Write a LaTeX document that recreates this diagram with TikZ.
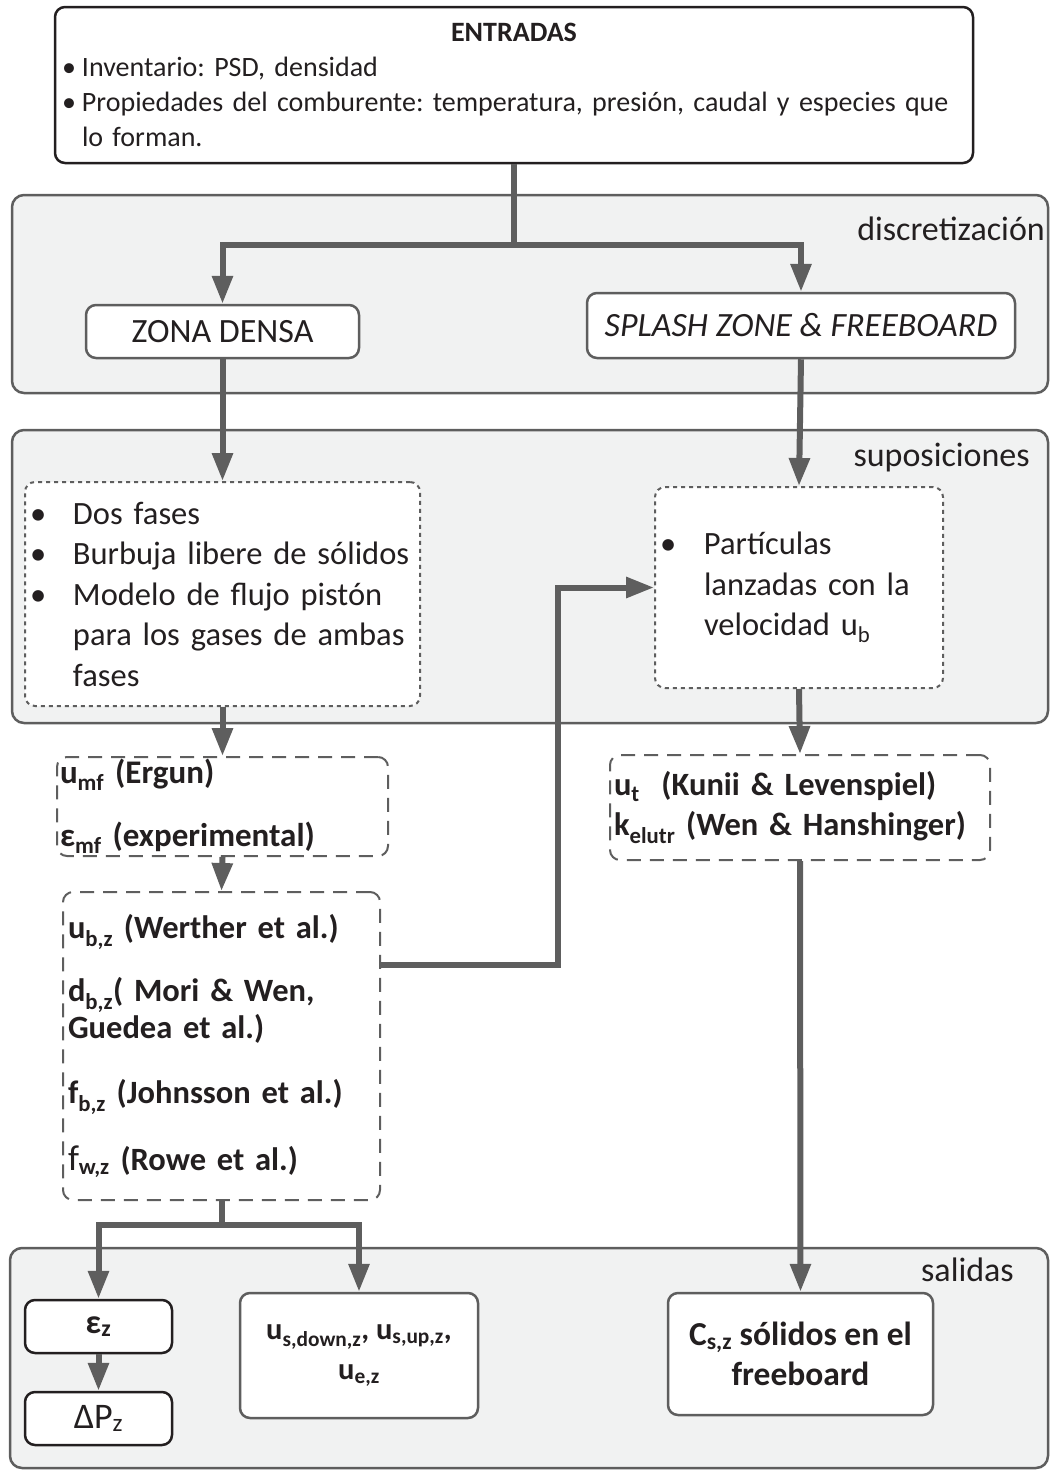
\documentclass[tikz,border=0pt]{standalone}
\usepackage{fontspec}
\setmainfont{Carlito}
\frenchspacing
\usetikzlibrary{arrows.meta}
\definecolor{linegray}{HTML}{5E5E5E}
\definecolor{panelfill}{HTML}{F1F2F2}
\definecolor{ink}{HTML}{231F20}
\tikzset{
  panel/.style={draw=linegray, fill=panelfill, line width=2.5pt, rounded corners=12pt},
  paneltag/.style={anchor=east, font=\fontsize{34}{40}\selectfont, text=ink, inner sep=0pt},
  box/.style={draw=linegray, fill=white, line width=2.5pt, rounded corners=10pt, text=ink, align=center, inner sep=0pt},
  dotbox/.style={box, align=left, dash pattern=on 4pt off 4pt, line width=2pt},
  dashbox/.style={box, align=left, dash pattern=on 14pt off 9pt, line width=2pt},
  flow/.style={draw=linegray, line width=6pt, -{Triangle[length=28pt,width=20pt]}},
  trunk/.style={draw=linegray, line width=6pt},
}
\newcommand{\itm}[1]{\makebox[#1][l]{\textbullet}}
\begin{document}
\begin{tikzpicture}[x=1pt, y=-1pt]
  \useasboundingbox (0,0) rectangle (1051,1470);
  % paneles
  \draw[panel] (12,195) rectangle (1048,393);
  \draw[panel] (12,430) rectangle (1048,723);
  \draw[panel] (10,1248) rectangle (1048,1468);
  \node[paneltag] (tagdis) at (1045,229) {discretización};
  \node[paneltag] (tagsup) at (1030,458) {suposiciones};
  \node[paneltag] (tagsal) at (1014,1270) {salidas};

  % entradas
  \node[box, draw=ink, align=left, minimum width=918pt, minimum height=156pt, text width=904pt,
        font=\fontsize{28}{35}\selectfont] (entradas) at (514,85) {%
    \null\hfill\textbf{ENTRADAS}\hfill\null\\
    \itm{20pt}Inventario: PSD, densidad\\
    \itm{20pt}Propiedades del comburente: temperatura, presión, caudal y especies que\\
    \hspace*{20pt}lo forman.};

  % discretizacion
  \node[box, minimum width=273pt, minimum height=53pt, font=\fontsize{34}{40}\selectfont] (densa) at (222.5,331.5) {ZONA DENSA};
  \node[box, minimum width=428pt, minimum height=65pt, font=\fontsize{34}{40}\itshape] (splash) at (801,325.5) {SPLASH ZONE \& FREEBOARD};

  % suposiciones
  \node[dotbox, minimum width=395pt, minimum height=224pt, text width=385pt,
        font=\fontsize{32.5}{40.5}\selectfont] (supdensa) at (222.5,594) {%
    \itm{43pt}Dos fases\\
    \itm{43pt}Burbuja libere de sólidos\\
    \itm{43pt}Modelo de flujo pistón\\
    \hspace*{43pt}para los gases de ambas\\
    \hspace*{43pt}fases};
  \node[dotbox, minimum width=288pt, minimum height=201pt, text width=278pt,
        font=\fontsize{32.5}{40.5}\selectfont] (supsplash) at (799,587.5) {%
    \itm{44pt}Partículas\\
    \hspace*{44pt}lanzadas con la\\
    \hspace*{44pt}velocidad u\textsubscript{b}};

  % correlaciones
  \node[dashbox, minimum width=331pt, minimum height=99pt, text width=325pt,
        font=\fontsize{33}{63}\bfseries] (corrmf) at (222.5,806.5) {%
    u\textsubscript{mf} (Ergun)\\
    ε\textsubscript{mf} (experimental)};
  \node[dashbox, minimum width=317pt, minimum height=308pt, text width=307pt,
        font=\fontsize{32.5}{37}\bfseries] (corrb) at (221.5,1046) {%
    u\textsubscript{b,z} (Werther et al.)\\[26pt]
    d\textsubscript{b,z}( Mori \& Wen,\\
    Guedea et al.)\\[28pt]
    f\textsubscript{b,z} (Johnsson et al.)\\[30pt]
    {\mdseries\fontsize{36}{37}\selectfont f}\textsubscript{w,z} (Rowe et al.)};
  \node[dashbox, minimum width=380pt, minimum height=105pt, text width=372pt,
        font=\fontsize{32.5}{40}\bfseries] (corrt) at (800,807.5) {%
    u\textsubscript{t}\ \ (Kunii \& Levenspiel)\\
    k\textsubscript{elutr} (Wen \& Hanshinger)};

  % salidas
  \node[box, draw=ink, minimum width=147pt, minimum height=53pt, font=\fontsize{34}{40}\bfseries] (eps) at (98.5,1326.5) {ε\textsubscript{z}};
  \node[box, draw=ink, minimum width=147pt, minimum height=53pt, font=\fontsize{36}{40}\selectfont] (dp) at (98.5,1418.5) {ΔP\textsubscript{z}};
  \node[box, minimum width=238pt, minimum height=125pt, font=\fontsize{30.5}{40}\bfseries] (vel) at (359,1355.5) {%
    u\textsubscript{s,down,z}, u\textsubscript{s,up,z},\\ u\textsubscript{e,z}};
  \node[box, minimum width=265pt, minimum height=122pt, font=\fontsize{33.5}{40}\bfseries] (solidos) at (800.5,1354) {%
    C\textsubscript{s,z} sólidos en el\\ freeboard};

  % conectores
  \coordinate (split1) at (514,245);
  \coordinate (split2) at (221.5,1225);
  \draw[trunk] (entradas.south) -- (split1);
  \draw[flow] (split1) -| (densa.north);
  \draw[flow] (split1) -| (splash.north);
  \draw[flow] (densa.south) -- (supdensa.north);
  \draw[flow] (splash.south) -- (supsplash.north);
  \draw[flow] (supdensa.south) -- (corrmf.north);
  \draw[flow] (supsplash.south) -- (corrt.north);
  \draw[flow] (corrmf.south) -- (corrb.north);
  \draw[flow] ([yshift=81pt]corrb.east) -- ++(177,0) |- (supsplash.west);
  \draw[flow] (corrt.south) -- (solidos.north);
  \draw[trunk] (corrb.south) -- (split2);
  \draw[flow] (split2) -| (eps.north);
  \draw[flow] (split2) -| (vel.north);
  \draw[flow] (eps.south) -- (dp.north);
\end{tikzpicture}
\end{document}
